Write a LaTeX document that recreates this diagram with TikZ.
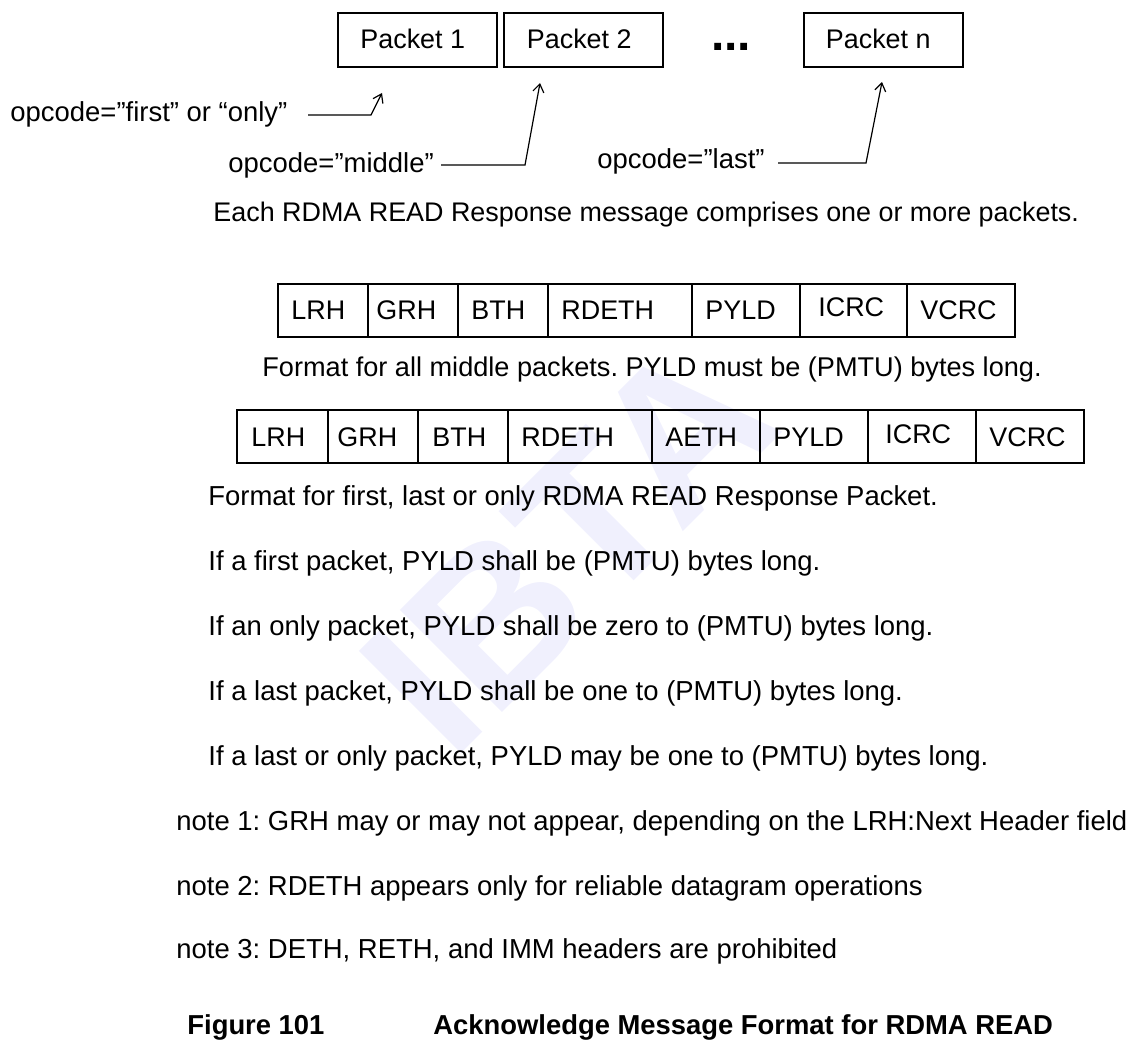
\documentclass[tikz,border=0pt]{standalone}
\usepackage{fontspec}
\setmainfont{Liberation Sans}
\usetikzlibrary{arrows.meta}
\definecolor{wmblue}{RGB}{240,240,253}
\frenchspacing
\begin{document}
\begin{tikzpicture}[x=0.5pt,y=-0.5pt,
  txt/.style={anchor=base west, inner sep=0pt, font=\fontsize{13.73}{16}\selectfont},
  ctxt/.style={anchor=base west, inner sep=0pt, font=\fontsize{13.45}{16}\selectfont},
  btxt/.style={anchor=base west, inner sep=0pt, font=\fontsize{13.7}{16}\selectfont\bfseries},
  pbox/.style={draw, line width=1pt, minimum width=79.5pt, minimum height=27pt, inner sep=0pt},
  cellline/.style={draw, line width=1pt},
  conn/.style={draw, line width=0.6pt},
  tip/.style={-{Straight Barb[length=4pt,width=5.5pt,line width=0.6pt]}}
]
\useasboundingbox (0,0) rectangle (1138,1042);

% watermark
\node[rotate=45, text=wmblue, inner sep=0pt, font=\fontsize{105}{105}\selectfont\bfseries] (wm) at (568,545) {IBTA};

% packets
\node[pbox] (p1) at (417.5,40) {};
\node[pbox] (p2) at (583,40) {};
\node[pbox] (pn) at (883,40) {};
\node[ctxt] (p1t) at ([xshift=11.5pt]p1.west |- 0,49) {Packet 1};
\node[ctxt] (p2t) at ([xshift=12pt]p2.west |- 0,49) {Packet 2};
\node[ctxt] (pnt) at ([xshift=11.5pt]pn.west |- 0,49) {Packet n};
\node[inner sep=0pt, font=\fontsize{24}{24}\selectfont\bfseries] (dots) at (731,47) {...};

% opcode labels
\node[txt] (l1) at (10,122) {opcode=”first” or “only”};
\node[txt] (l2) at (228,173) {opcode=”middle”};
\node[txt] (l3) at (597,169) {opcode=”last”};

\coordinate (a1) at (308,115);
\coordinate (b1) at (371,115);
\coordinate (t1) at (382,93);
\coordinate (a2) at (441,165);
\coordinate (b2) at (525,165);
\coordinate (t2) at (540,83);
\coordinate (a3) at (778,163);
\coordinate (b3) at (866,163);
\coordinate (t3) at (882,82);
\draw[conn, tip] (a1) -- (b1) -- (t1);
\draw[conn, tip] (a2) -- (b2) -- (t2);
\draw[conn, tip] (a3) -- (b3) -- (t3);

\node[ctxt] (each) at (213,222) {Each RDMA READ Response message comprises one or more packets.};

% middle packet format
\foreach \a/\b/\t/\l/\d in {278/368/291/LRH/0, 368/458/376/GRH/0, 458/548/471/BTH/0, 548/692/561/RDETH/0, 692/800/705/PYLD/0, 800/907/818/ICRC/3, 907/1015/920/VCRC/0}{
  \draw[cellline] (\a,284) rectangle (\b,337);
  \node[ctxt] (m-\l) at (\t,320-\d) {\l};
}
\node[ctxt, font=\fontsize{13.56}{16}\selectfont] (fmid) at (262,377) {Format for all middle packets. PYLD must be (PMTU) bytes long.};

% first/last/only format
\foreach \a/\b/\t/\l/\d in {237/328/251/LRH/0, 328/418/337/GRH/0, 418/508/432/BTH/0, 508/652/521/RDETH/0, 652/760/665/AETH/0, 760/868/773/PYLD/0, 868/976/885/ICRC/3, 976/1084/989/VCRC/0}{
  \draw[cellline] (\a,410) rectangle (\b,463);
  \node[ctxt] (f-\l) at (\t,446-\d) {\l};
}

\node[txt] (s1) at (208,505) {Format for first, last or only RDMA READ Response Packet.};
\node[txt] (s2) at (208,570) {If a first packet, PYLD shall be (PMTU) bytes long.};
\node[txt] (s3) at (208,635) {If an only packet, PYLD shall be zero to (PMTU) bytes long.};
\node[txt] (s4) at (208,700) {If a last packet, PYLD shall be one to (PMTU) bytes long.};
\node[txt] (s5) at (208,765) {If a last or only packet, PYLD may be one to (PMTU) bytes long.};
\node[txt] (n1) at (176,830) {note 1: GRH may or may not appear, depending on the LRH:Next Header field};
\node[txt] (n2) at (176,895) {note 2: RDETH appears only for reliable datagram operations};
\node[txt] (n3) at (176,958) {note 3: DETH, RETH, and IMM headers are prohibited};

\node[btxt] (fig) at (187,1034) {Figure 101};
\node[btxt] (title) at (433,1034) {Acknowledge Message Format for RDMA READ};
\end{tikzpicture}
\end{document}
